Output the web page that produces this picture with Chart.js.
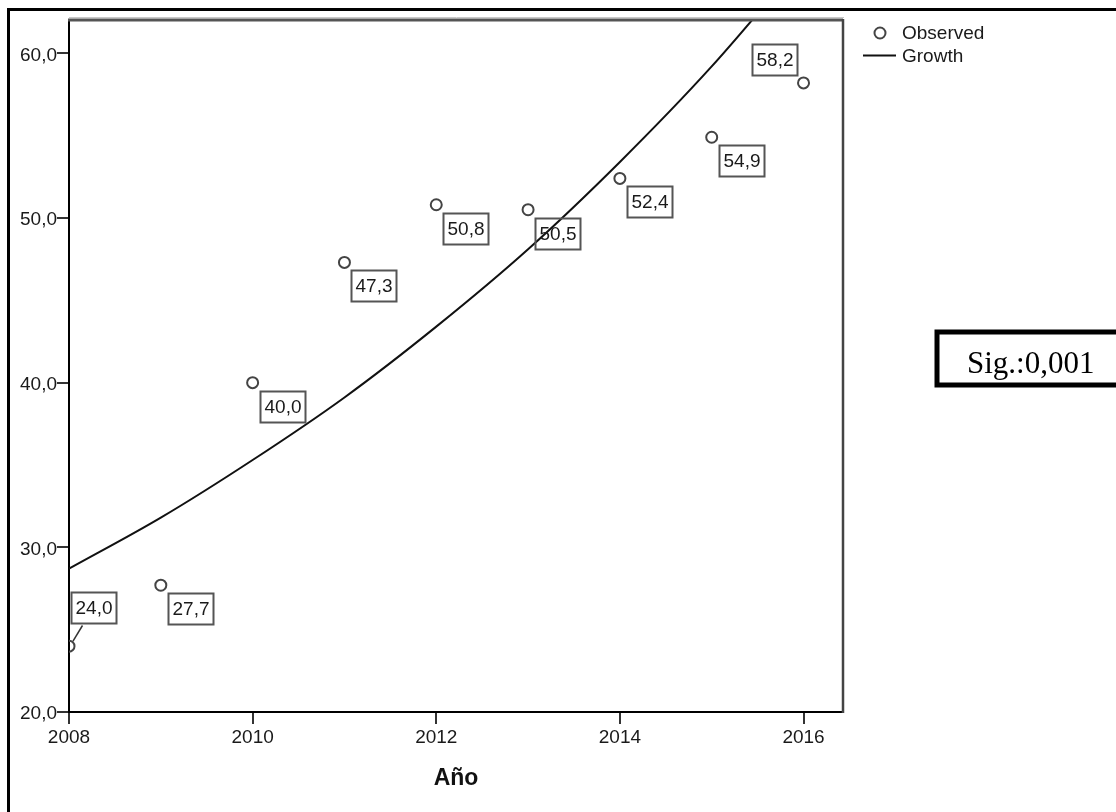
<!DOCTYPE html>
<html>
<head>
<meta charset="utf-8">
<title>Año – Observed / Growth</title>
<style>
  html, body { margin: 0; padding: 0; background: #fff; }
  #wrap { position: relative; width: 1116px; height: 812px; }
  canvas { display: block; }
</style>
<script src="https://cdn.jsdelivr.net/npm/chart.js@4.4.1/dist/chart.umd.min.js"></script>
</head>
<body>
<div id="wrap"><canvas id="c" width="1116" height="812"></canvas></div>
<script>
// ---- data ----
const years    = [2008, 2009, 2010, 2011, 2012, 2013, 2014, 2015, 2016];
const observed = [24.0, 27.7, 40.0, 47.3, 50.8, 50.5, 52.4, 54.9, 58.2];
// fitted growth curve, read at each year
const growth   = [28.7, 31.8, 35.3, 39.1, 43.4, 48.1, 53.4, 59.2, 65.7];
const xTicks   = [2008, 2010, 2012, 2014, 2016];
const yTicks   = [20, 30, 40, 50, 60];
const seriesNames = ['Observed', 'Growth'];
const axisTitle = 'Año';
const sigText = 'Sig.:0,001';

const SANS = '"Liberation Sans", Arial, sans-serif';
const SERIF = '"Liberation Serif", "Times New Roman", serif';
const fmt = v => v.toFixed(1).replace('.', ',');

// where each value box sits relative to its point (dx, dy of box top-left)
const boxPlacement = {
  0: { dx: 2, dy: -54, leader: true },
  8: { dx: -52, dy: -39 }
};
const BOX_W = 45, BOX_H = 31;

const valueBoxes = {
  id: 'valueBoxes',
  afterDatasetsDraw(chart) {
    const ctx = chart.ctx;
    const pts = chart.getDatasetMeta(0).data;
    ctx.save();
    ctx.font = '19px ' + SANS;
    ctx.textAlign = 'center';
    ctx.textBaseline = 'middle';
    pts.forEach((p, i) => {
      const place = boxPlacement[i] || { dx: 7, dy: 8 };
      const bx = Math.round(p.x + place.dx) + 0.5;
      const by = Math.round(p.y + place.dy) + 0.5;
      ctx.strokeStyle = '#555';
      ctx.lineWidth = 2;
      ctx.strokeRect(bx, by, BOX_W, BOX_H);
      ctx.fillStyle = '#1a1a1a';
      ctx.fillText(fmt(observed[i]), bx + BOX_W / 2, by + BOX_H / 2 + 1);
      if (place.leader) {
        ctx.strokeStyle = '#333';
        ctx.lineWidth = 1.5;
        ctx.beginPath();
        ctx.moveTo(bx + 11, by + BOX_H + 2);
        ctx.lineTo(p.x + 4, p.y - 5);
        ctx.stroke();
      }
    });
    ctx.restore();
  }
};

const decorations = {
  id: 'decorations',
  beforeDraw(chart) {
    const ctx = chart.ctx;
    ctx.save();
    ctx.fillStyle = '#fff';
    ctx.fillRect(0, 0, chart.width, chart.height);
    ctx.restore();
  },
  afterDraw(chart) {
    const ctx = chart.ctx;
    const a = chart.chartArea;
    ctx.save();
    // outer frame (left and top edges)
    ctx.strokeStyle = '#000';
    ctx.lineWidth = 3;
    ctx.beginPath();
    ctx.moveTo(8.5, chart.height + 2);
    ctx.lineTo(8.5, 9.5);
    ctx.lineTo(chart.width + 2, 9.5);
    ctx.stroke();

    // plot frame top and right
    ctx.strokeStyle = '#c8c8c8';
    ctx.lineWidth = 1;
    ctx.beginPath();
    ctx.moveTo(a.left, a.top - 2.5);
    ctx.lineTo(a.right + 1, a.top - 2.5);
    ctx.stroke();
    ctx.strokeStyle = '#555';
    ctx.lineWidth = 3;
    ctx.beginPath();
    ctx.moveTo(a.left - 1, a.top);
    ctx.lineTo(a.right, a.top);
    ctx.stroke();
    ctx.strokeStyle = '#444';
    ctx.lineWidth = 2.5;
    ctx.beginPath();
    ctx.moveTo(a.right, a.top - 1);
    ctx.lineTo(a.right, a.bottom + 1);
    ctx.stroke();

    // legend
    const ds = chart.data.datasets;
    ctx.font = '19px ' + SANS;
    ctx.textAlign = 'left';
    ctx.textBaseline = 'middle';
    ctx.fillStyle = '#1a1a1a';
    ctx.strokeStyle = ds[0].pointBorderColor;
    ctx.lineWidth = 2;
    ctx.beginPath();
    ctx.arc(880, 33, 5.5, 0, Math.PI * 2);
    ctx.stroke();
    ctx.fillText(ds[0].label, 902, 34);
    ctx.strokeStyle = ds[1].borderColor;
    ctx.lineWidth = 2;
    ctx.beginPath();
    ctx.moveTo(863, 55.5);
    ctx.lineTo(896, 55.5);
    ctx.stroke();
    ctx.fillText(ds[1].label, 902, 57);

    // significance box
    ctx.strokeStyle = '#000';
    ctx.lineWidth = 5;
    ctx.strokeRect(937, 332, 200, 53);
    ctx.font = '31px ' + SERIF;
    ctx.textBaseline = 'alphabetic';
    ctx.fillStyle = '#000';
    ctx.fillText(sigText, 967, 373);
    ctx.restore();
  }
};

new Chart(document.getElementById('c'), {
  type: 'scatter',
  data: {
    datasets: [
      {
        label: seriesNames[0],
        data: years.map((x, i) => ({ x, y: observed[i] })),
        showLine: false,
        pointStyle: 'circle',
        pointRadius: 5.5,
        pointHoverRadius: 5.5,
        pointBorderWidth: 2,
        pointBorderColor: '#444',
        pointBackgroundColor: 'rgba(255,255,255,0)',
        clip: 0,
        order: 1
      },
      {
        label: seriesNames[1],
        data: years.map((x, i) => ({ x, y: growth[i] })),
        showLine: true,
        cubicInterpolationMode: 'monotone',
        pointRadius: 0,
        borderColor: '#111',
        borderWidth: 2,
        fill: false,
        order: 0
      }
    ]
  },
  options: {
    responsive: false,
    animation: false,
    devicePixelRatio: 1,
    layout: { padding: { left: 0, top: 20, right: 273, bottom: 0 } },
    plugins: { legend: { display: false }, tooltip: { enabled: false } },
    scales: {
      x: {
        type: 'linear',
        min: 2008,
        max: 2016.43,
        afterBuildTicks: s => { s.ticks = xTicks.map(v => ({ value: v })); },
        afterFit: s => { s.height = 100; },
        ticks: {
          callback: v => String(v),
          font: { family: SANS, size: 19 },
          color: '#1a1a1a',
          padding: 2,
          maxRotation: 0,
          autoSkip: false
        },
        grid: { drawOnChartArea: false, drawTicks: true, tickLength: 12, color: '#333', lineWidth: 2 },
        border: { display: true, color: '#000', width: 2 },
        title: {
          display: true,
          text: axisTitle,
          font: { family: SANS, size: 23, weight: 'bold' },
          color: '#111',
          padding: { top: 0, bottom: 20 }
        }
      },
      y: {
        type: 'linear',
        min: 20,
        max: 62.02,
        afterBuildTicks: s => { s.ticks = yTicks.map(v => ({ value: v })); },
        afterFit: s => { s.width = 69; },
        ticks: {
          callback: v => fmt(v),
          font: { family: SANS, size: 19 },
          color: '#1a1a1a',
          padding: 0,
          labelOffset: 2
        },
        grid: { drawOnChartArea: false, drawTicks: true, tickLength: 12, color: '#333', lineWidth: 2 },
        border: { display: true, color: '#000', width: 2 }
      }
    }
  },
  plugins: [decorations, valueBoxes]
});
</script>
</body>
</html>
